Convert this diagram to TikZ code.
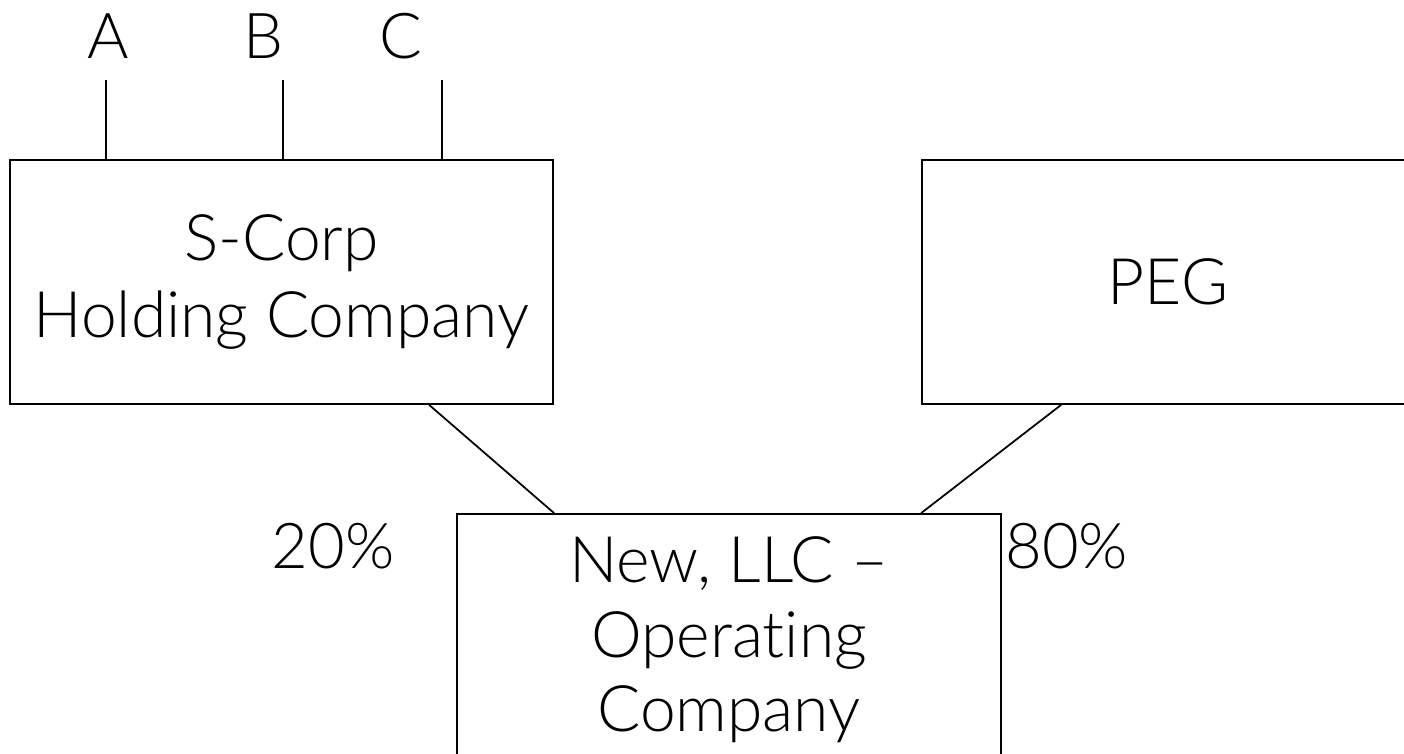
\documentclass[tikz,border=0pt]{standalone}
\usepackage{fontspec}
\setmainfont{Lato Light}[Ligatures=NoCommon]

\begin{document}
\begin{tikzpicture}[x=0.02cm,y=-0.02cm,
    box/.style={draw,line width=1pt,align=center,inner sep=0pt,font=\fontsize{36.5}{42.5}\selectfont},
    lbl/.style={font=\fontsize{36}{42}\selectfont},
    tie/.style={line width=1pt}]
    \useasboundingbox (0,0) rectangle (1404,754);
    \clip (0,0) rectangle (1404,754);

    % the three entities
    \node (scorp) at (281.5,282) [box,minimum width=10.86cm,minimum height=4.88cm] {S-Corp\\[1pt]Holding Company};
    \node (peg) at (1168,282) [box,minimum width=9.84cm,minimum height=4.88cm] {PEG};
    \node (newco) at (729,640) [box,minimum width=10.88cm,minimum height=5.04cm] {New, LLC --\\Operating\\Company};

    % shareholders of the holding company
    \node (a) at (108,36) [lbl] {A};
    \node (b) at (263,36) [lbl] {B};
    \node (c) at (401,36) [lbl] {C};
    \coordinate (ta) at (106,80);
    \coordinate (tb) at (283,80);
    \coordinate (tc) at (442,80);
    \draw[tie] (ta) -- (ta |- scorp.north);
    \draw[tie] (tb) -- (tb |- scorp.north);
    \draw[tie] (tc) -- (tc |- scorp.north);

    % ownership of the operating company
    \draw[tie] ([xshift=8.4cm]scorp.south west) -- ([xshift=1.96cm]newco.north west);
    \draw[tie] ([xshift=2.8cm]peg.south west) -- ([xshift=9.3cm]newco.north west);
    \node (p20) at (333,546) [lbl] {20\%};
    \node (p80) at (1005,546) [lbl,anchor=west,inner sep=0pt] {80\%};

\end{tikzpicture}
\end{document}
